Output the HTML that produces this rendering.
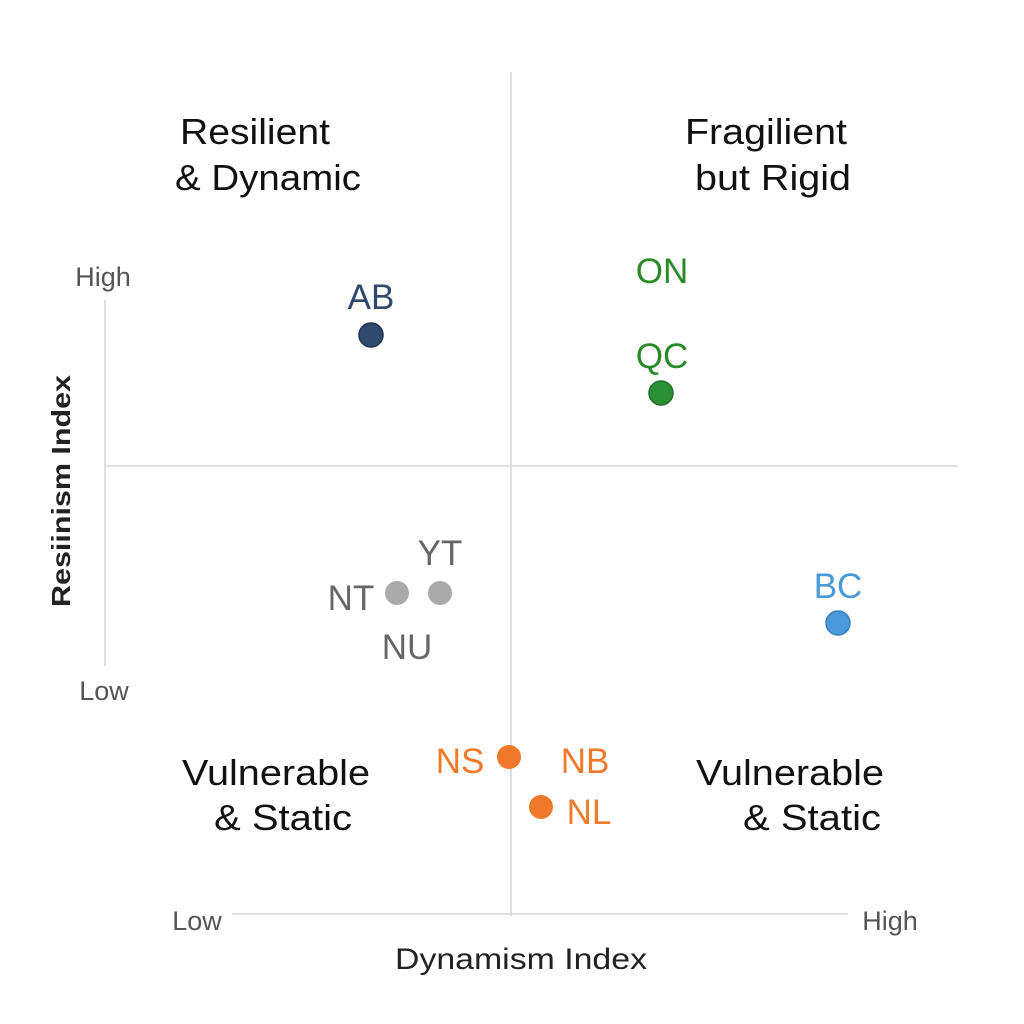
<!DOCTYPE html>
<html><head><style>
body{margin:0;background:#fff;}
svg{display:block;font-family:"Liberation Sans",sans-serif;}
</style></head><body>
<svg width="1024" height="1024" viewBox="0 0 1024 1024">
<rect width="1024" height="1024" fill="#fff"/>
<g stroke="#dedede" stroke-width="2">
<line x1="511" y1="72" x2="511" y2="916"/>
<line x1="105" y1="466" x2="958" y2="466"/>
<line x1="105" y1="300" x2="105" y2="666"/>
<line x1="232" y1="914" x2="848" y2="914"/>
</g>
<g fill="#555" font-size="27" text-anchor="middle">
<text x="103" y="286">High</text>
<text x="104" y="700">Low</text>
<text x="197" y="930">Low</text>
<text x="890" y="930">High</text>
</g>
<text x="0" y="0" transform="translate(70,491) rotate(-90)" text-anchor="middle" font-size="26" font-weight="bold" fill="#222" textLength="232" lengthAdjust="spacingAndGlyphs">Resiinism Index</text>
<text x="521" y="969" text-anchor="middle" font-size="30" fill="#222" textLength="252" lengthAdjust="spacingAndGlyphs">Dynamism Index</text>
<g fill="#111" font-size="36" text-anchor="middle">
<text x="255" y="144" textLength="150" lengthAdjust="spacingAndGlyphs">Resilient</text>
<text x="268" y="190" textLength="186" lengthAdjust="spacingAndGlyphs">&amp; Dynamic</text>
<text x="766" y="144" textLength="162" lengthAdjust="spacingAndGlyphs">Fragilient</text>
<text x="773" y="190" textLength="156" lengthAdjust="spacingAndGlyphs">but Rigid</text>
<text x="276" y="785" textLength="188" lengthAdjust="spacingAndGlyphs">Vulnerable</text>
<text x="283" y="830" textLength="138" lengthAdjust="spacingAndGlyphs">&amp; Static</text>
<text x="790" y="785" textLength="188" lengthAdjust="spacingAndGlyphs">Vulnerable</text>
<text x="812" y="830" textLength="138" lengthAdjust="spacingAndGlyphs">&amp; Static</text>
</g>
<g font-size="35" text-anchor="middle">
<circle cx="371" cy="335" r="12" fill="#2f4a6e" stroke="#1e3350" stroke-width="1.5"/>
<text x="371" y="309" fill="#2f4a6e">AB</text>
<text x="662" y="283" fill="#2a8a2a">ON</text>
<text x="662" y="368" fill="#2a8a2a">QC</text>
<circle cx="661" cy="393" r="12" fill="#2a8f35" stroke="#1f6f28" stroke-width="1.5"/>
<circle cx="397" cy="593" r="12" fill="#aaa"/>
<circle cx="440" cy="593" r="12" fill="#aaa"/>
<text x="351" y="610" fill="#666">NT</text>
<text x="440" y="565" fill="#666">YT</text>
<text x="407" y="659" fill="#666">NU</text>
<circle cx="838" cy="623" r="12" fill="#4a9ad9" stroke="#3a7fc0" stroke-width="1.5"/>
<text x="838" y="598" fill="#4a9ad9">BC</text>
<circle cx="509" cy="757" r="12" fill="#f07a2a"/>
<circle cx="541" cy="807" r="12" fill="#f07a2a"/>
<text x="460" y="773" fill="#f07a2a">NS</text>
<text x="585" y="773" fill="#f07a2a">NB</text>
<text x="589" y="824" fill="#f07a2a">NL</text>
</g>
</svg>
</body></html>
